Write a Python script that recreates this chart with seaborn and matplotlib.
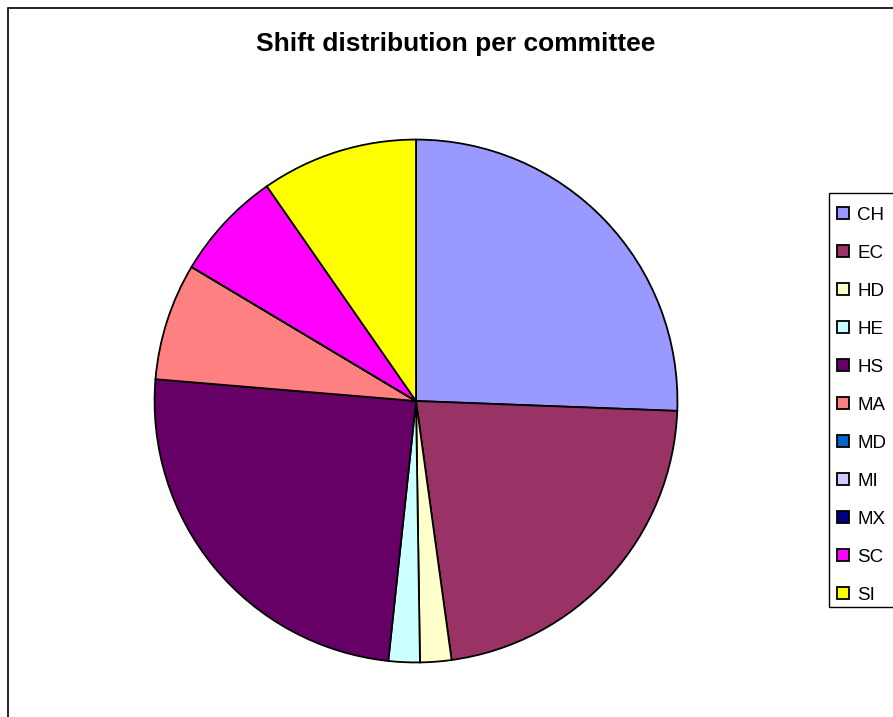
import matplotlib
matplotlib.use("Agg")
import matplotlib.pyplot as plt
from matplotlib.patches import Rectangle
import seaborn as sns

# Shift counts per committee
committees = ["CH", "EC", "HD", "HE", "HS", "MA", "MD", "MI", "MX", "SC", "SI"]
shifts = [53, 46, 4, 4, 51, 15, 0, 0, 0, 14, 20]
colors = ["#9999FF", "#993366", "#FFFFCC", "#CCFFFF", "#660066", "#FF8080",
          "#0066CC", "#CCCCFF", "#000080", "#FF00FF", "#FFFF00"]

sns.set_theme(style="white")
plt.rcParams["font.family"] = ["Liberation Sans", "DejaVu Sans"]
plt.rcParams["text.color"] = "black"

W, H = 893, 717
fig = plt.figure(figsize=(W / 100, H / 100), dpi=100)
fig.patch.set_facecolor("white")

# chart-area border (runs off the right and bottom edges)
fig.patches.append(Rectangle((8 / W, -0.05), 1.1, 1 - 8 / H + 0.05,
                             transform=fig.transFigure, fill=False,
                             edgecolor="black", linewidth=1.2))

cx, cy, r = 416, 401, 263
ax = fig.add_axes([(cx - r) / W, (H - cy - r) / H, 2 * r / W, 2 * r / H])
wedges, _ = ax.pie(shifts, colors=colors, startangle=90, counterclock=False,
                   wedgeprops=dict(edgecolor="black", linewidth=1.3))
ax.set_xlim(-1.006, 1.006)
ax.set_ylim(-1.006, 1.006)
ax.set_aspect("equal")
ax.axis("off")

fig.text(456 / W, 1 - 44 / H, "Shift distribution per committee",
         ha="center", va="center", fontsize=19, fontweight="bold",
         color="black")

# legend box (runs off the right edge)
fig.patches.append(Rectangle((829 / W, 1 - 607 / H), 0.2, (607 - 193) / H,
                             transform=fig.transFigure, fill=False,
                             edgecolor="black", linewidth=1.0))

leg = fig.legend(wedges, committees, loc="upper left",
                 bbox_to_anchor=(829 / W, 1 - 198.5 / H),
                 fontsize=13.5, frameon=False,
                 handlelength=0.6, handleheight=0.6, handletextpad=0.45,
                 labelspacing=1.12, borderpad=0.45, borderaxespad=0)
for t in leg.get_texts():
    t.set_color("black")

fig.savefig("out.png", dpi=100, facecolor="white")
